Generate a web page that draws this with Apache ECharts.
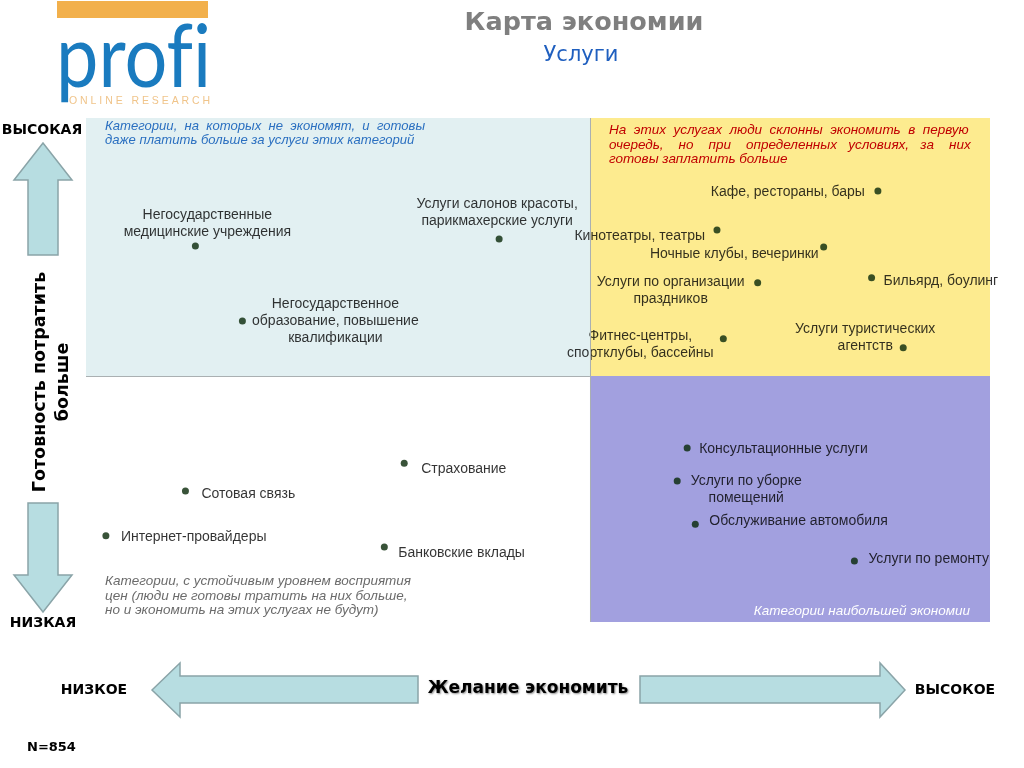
<!DOCTYPE html>
<html><head><meta charset="utf-8">
<script src="https://cdn.jsdelivr.net/npm/echarts@6/dist/echarts.min.js"></script>
<style>html,body{margin:0;padding:0;background:#fff}#c{width:1024px;height:768px}</style>
</head><body><div id="c"></div>
<script>
// ---- data ----
const names = [
  'Негосударственные\nмедицинские учреждения',
  'Услуги салонов красоты,\nпарикмахерские услуги',
  'Негосударственное\nобразование, повышение\nквалификации',
  'Кафе, рестораны, бары',
  'Кинотеатры, театры',
  'Ночные клубы, вечеринки',
  'Услуги по организации\nпраздников',
  'Бильярд, боулинг',
  'Фитнес-центры,\nспортклубы, бассейны',
  'Услуги туристических\nагентств',
  'Страхование',
  'Сотовая связь',
  'Интернет-провайдеры',
  'Банковские вклады',
  'Консультационные услуги',
  'Услуги по уборке\nпомещений',
  'Обслуживание автомобиля',
  'Услуги по ремонту'
];
// desire to save (x), readiness to spend more (y)
const saveDesire = [12.1, 45.7, 17.3, 87.6, 69.8, 81.6, 74.3, 86.9, 70.5, 90.4, 35.2, 11.0, 2.2, 33.0, 66.5, 65.4, 67.4, 85.0];
const spendReady = [74.6, 76.0, 59.7, 85.5, 77.8, 74.4, 67.3, 68.3, 56.2, 54.4, 31.5, 26.0, 17.1, 14.9, 34.5, 28.0, 19.4, 12.1];
const xSplit = 55.75;
const ySplit = 48.8;

// ---- label placement (style only) ----
const labelPlace = [
  ['center', [12, -22]], ['center', [-2, -26]], ['center', [93, 0]],
  ['right', [-13, 1]], ['right', [-12, 6]], ['right', [-5, 7]],
  ['center', [-87, 8]], ['left', [12, 3]], ['center', [-83, 6]],
  ['center', [-38, -10]], ['left', [17, 6]], ['left', [16, 3]],
  ['left', [15, 1]], ['left', [14, 6]], ['left', [12, 1]],
  ['center', [69, 9]], ['left', [14, -3]], ['left', [14, -2]]
];

const points = names.map((n, i) => ({
  name: n,
  value: [saveDesire[i], spendReady[i]],
  label: { align: labelPlace[i][0], offset: labelPlace[i][1] }
}));

const chart = echarts.init(document.getElementById('c'), null, { renderer: 'canvas' });
const BASE = 'Liberation Sans, Arial, sans-serif';
const BOLD = 'DejaVu Sans, Verdana, sans-serif';
const ital = 'italic 13.5px ' + BASE;
const Z = 100;

chart.setOption({
  animation: false,
  grid: { left: 86, right: 34, top: 118, bottom: 146 },
  xAxis: { type: 'value', min: 0, max: 100, show: false },
  yAxis: { type: 'value', min: 0, max: 100, show: false },
  series: [{
    type: 'scatter',
    symbol: 'circle',
    symbolSize: 7,
    itemStyle: { color: '#082808' },
    data: points,
    label: {
      show: true,
      position: 'inside',
      formatter: p => p.name,
      color: '#000',
      fontFamily: BASE,
      fontSize: 14,
      lineHeight: 17,
      verticalAlign: 'middle'
    },
    emphasis: { disabled: true },
    markArea: {
      silent: true,
      data: [
        [{ coord: [0, ySplit], itemStyle: { color: '#e2f0f2' } }, { coord: [xSplit, 100] }],
        [{ coord: [xSplit, ySplit], itemStyle: { color: '#fdeb8f' } }, { coord: [100, 100] }],
        [{ coord: [xSplit, 0], itemStyle: { color: '#a2a0df' } }, { coord: [100, ySplit] }]
      ]
    },
    markLine: {
      silent: true,
      symbol: 'none',
      label: { show: false },
      lineStyle: { color: '#aab0b2', type: 'solid', width: 1 },
      data: [
        [{ coord: [0, ySplit] }, { coord: [xSplit, ySplit] }],
        [{ coord: [xSplit, 0] }, { coord: [xSplit, 100] }]
      ]
    }
  }],
  graphic: [
    // logo
    { type: 'rect', z: Z, shape: { x: 57, y: 1, width: 151, height: 17 }, style: { fill: '#f2b04c' } },
    { type: 'text', z: Z, x: 56, y: 103, scaleX: 0.86, style: { text: 'prof\u200Ci', x: 0, y: 0, font: '88px Lato, sans-serif', fill: '#1a7bbf', textVerticalAlign: 'bottom' } },
    { type: 'text', z: Z, style: { text: 'O N L I N E   R E S E A R C H', x: 69, y: 101, font: '10.5px Liberation Sans, sans-serif', fill: '#f0c48a', textVerticalAlign: 'middle' } },
    // titles
    { type: 'text', z: Z, style: { text: 'Карта экономии', x: 584, y: 23, font: 'bold 25.5px ' + BOLD, fill: '#7f7f7f', textAlign: 'center', textVerticalAlign: 'middle' } },
    { type: 'text', z: Z, style: { text: 'Услуги', x: 581, y: 56, font: '21px ' + BOLD, fill: '#1f5fbf', textAlign: 'center', textVerticalAlign: 'middle' } },
    // quadrant notes
    { type: 'text', z: Z, style: { text: 'Категории,  на  которых  не  экономят,  и  готовы\nдаже платить больше за услуги этих категорий', x: 105, y: 119, font: 'italic 13.1px ' + BASE, lineHeight: 14.5, fill: '#2a6fc0' } },
    { type: 'text', z: Z, style: { text: 'На  этих  услугах  люди  склонны  экономить  в  первую\nочередь,    но    при    определенных   условиях,   за    них\nготовы заплатить больше', x: 609, y: 123, font: ital, lineHeight: 14.5, fill: '#c00000' } },
    { type: 'text', z: Z, style: { text: 'Категории, с устойчивым уровнем восприятия\nцен (люди не готовы тратить на них больше,\nно и экономить на этих услугах не будут)', x: 105, y: 574, font: ital, lineHeight: 14.5, fill: '#6b6b6b' } },
    { type: 'text', z: Z, style: { text: 'Категории наибольшей экономии', x: 970, y: 611, font: ital, fill: '#ffffff', textAlign: 'right', textVerticalAlign: 'middle' } },
    // vertical axis
    { type: 'text', z: Z, style: { text: 'ВЫСОКАЯ', x: 42, y: 130, font: 'bold 14px ' + BOLD, fill: '#000', textAlign: 'center', textVerticalAlign: 'middle' } },
    { type: 'polygon', z: Z, shape: { points: [[43,143],[72,180],[58,180],[58,255],[28,255],[28,180],[14,180]] }, style: { fill: '#b7dde1', stroke: '#8aa4a8', lineWidth: 1.5 } },
    { type: 'text', z: Z, x: 52, y: 382, rotation: Math.PI / 2, style: { text: 'Готовность потратить\nбольше', x: 0, y: 0, font: 'bold 17.5px ' + BOLD, lineHeight: 23, fill: '#000', textAlign: 'center', textVerticalAlign: 'middle' } },
    { type: 'polygon', z: Z, shape: { points: [[28,503],[58,503],[58,575],[72,575],[43,612],[14,575],[28,575]] }, style: { fill: '#b7dde1', stroke: '#8aa4a8', lineWidth: 1.5 } },
    { type: 'text', z: Z, style: { text: 'НИЗКАЯ', x: 43, y: 623, font: 'bold 14px ' + BOLD, fill: '#000', textAlign: 'center', textVerticalAlign: 'middle' } },
    // horizontal axis
    { type: 'text', z: Z, style: { text: 'НИЗКОЕ', x: 94, y: 690, font: 'bold 14px ' + BOLD, fill: '#000', textAlign: 'center', textVerticalAlign: 'middle' } },
    { type: 'polygon', z: Z, shape: { points: [[152,690],[180,663],[180,676],[418,676],[418,703],[180,703],[180,717]] }, style: { fill: '#b7dde1', stroke: '#8aa4a8', lineWidth: 1.5 } },
    { type: 'text', z: Z, style: { text: 'Желание экономить', x: 528, y: 689, font: 'bold 17px ' + BOLD, fill: '#000', textAlign: 'center', textVerticalAlign: 'middle', textShadowColor: 'rgba(0,0,0,0.45)', textShadowBlur: 2, textShadowOffsetX: 1, textShadowOffsetY: 1 } },
    { type: 'polygon', z: Z, shape: { points: [[640,676],[880,676],[880,663],[905,690],[880,717],[880,703],[640,703]] }, style: { fill: '#b7dde1', stroke: '#8aa4a8', lineWidth: 1.5 } },
    { type: 'text', z: Z, style: { text: 'ВЫСОКОЕ', x: 955, y: 690, font: 'bold 14px ' + BOLD, fill: '#000', textAlign: 'center', textVerticalAlign: 'middle' } },
    { type: 'text', z: Z, style: { text: 'N=854', x: 27, y: 748, font: 'bold 13px ' + BOLD, fill: '#000', textVerticalAlign: 'middle' } }
  ]
});
</script></body></html>
